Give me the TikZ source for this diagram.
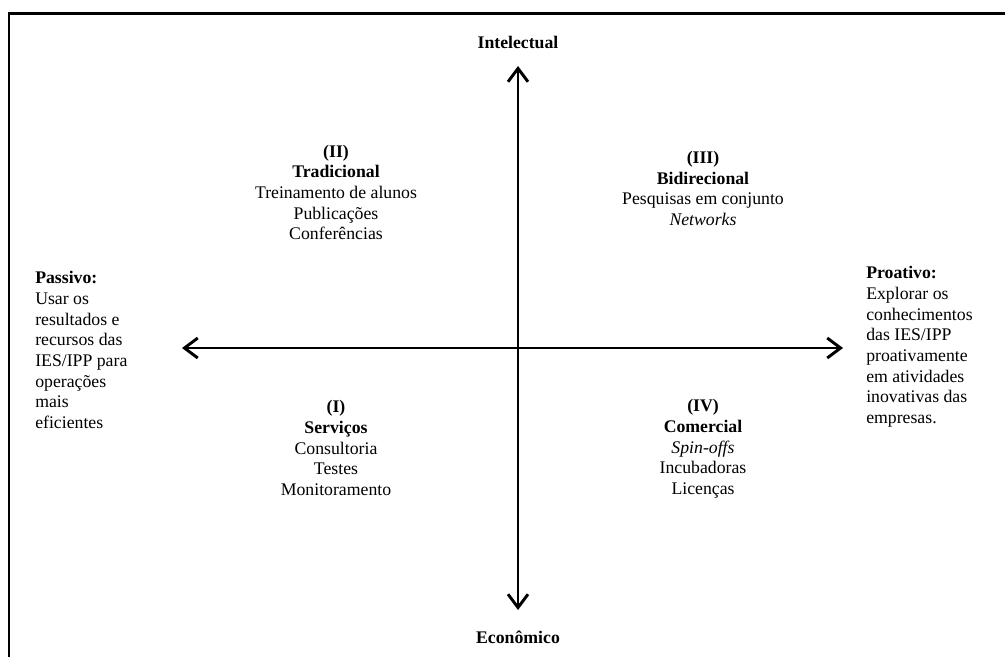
\documentclass[tikz,border=0pt]{standalone}
\usepackage{fontspec}
\setmainfont{Liberation Serif}
\usetikzlibrary{arrows.meta}
\begin{document}
\begin{tikzpicture}[x=0.75pt,y=-0.75pt,
  txt/.style={inner sep=0pt,align=center,font=\fontsize{13.3}{15.5}\selectfont},
  sidetxt/.style={inner sep=0pt,align=left,anchor=west,font=\fontsize{13.3}{15.5}\selectfont},
  axis/.style={line width=2.2pt,{Straight Barb[length=10pt,width=15pt]}-{Straight Barb[length=10pt,width=15pt]}},
  frame/.style={line width=1.6pt}]
\useasboundingbox (0,0) rectangle (1005,657);
\draw[frame] (9,657) -- (9,13.5) -- (1005,13.5);
% axes
\coordinate (top) at (518,66);
\coordinate (bot) at (518,610);
\coordinate (lft) at (182,348);
\coordinate (rgt) at (843,348);
\draw[axis] (bot) -- (top);
\draw[axis] (lft) -- (rgt);
% axis labels
\node[txt,font=\fontsize{13.3}{15.5}\selectfont\bfseries] (intel) at (518,42) {Intelectual};
\node[txt,font=\fontsize{13.3}{15.5}\selectfont\bfseries] (econ) at (518,637) {Econômico};
% quadrants
\node[txt] (q2) at (336,192.5) {\textbf{(II)}\\\textbf{Tradicional}\\Treinamento de alunos\\Publicações\\Conferências};
\node[txt] (q3) at (703,188.5) {\textbf{(III)}\\\textbf{Bidirecional}\\Pesquisas em conjunto\\\textit{Networks}};
\node[txt] (q1) at (336,448) {\textbf{(I)}\\\textbf{Serviços}\\Consultoria\\Testes\\Monitoramento};
\node[txt] (q4) at (703,449) {\textbf{(IV)}\\\textbf{Comercial}\\\textit{Spin-offs}\\Incubadoras\\Licenças};
% sides
\node[sidetxt] (pass) at (35,350) {\textbf{Passivo:}\\Usar os\\resultados e\\recursos das\\IES/IPP para\\operações\\mais\\eficientes};
\node[sidetxt] (proa) at (866,347) {\textbf{Proativo:}\\Explorar os\\conhecimentos\\das IES/IPP\\proativamente\\em atividades\\inovativas das\\empresas.};
\end{tikzpicture}
\end{document}
